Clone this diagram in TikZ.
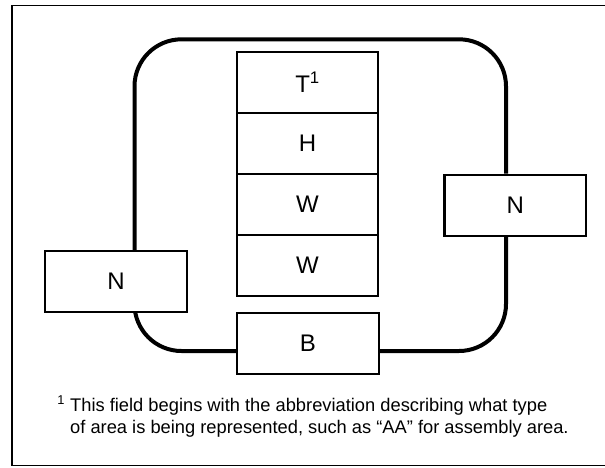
\documentclass[tikz,border=0pt]{standalone}
\usepackage{fontspec}
\setmainfont{Liberation Sans}
\usetikzlibrary{backgrounds}
\begin{document}
\begin{tikzpicture}[x=1pt,y=-1pt,
  field/.style={draw, line width=2.3pt, fill=white, rectangle, inner sep=0pt,
    minimum width=141.5pt, minimum height=61pt,
    font=\fontsize{24}{28}\selectfont},
  loopline/.style={line width=4pt, rounded corners=47pt},
  frameline/.style={line width=1.3pt}]
\useasboundingbox (0,0) rectangle (605,467);
% frame (right edge lies outside the picture)
\draw[frameline] (607,5.7) -- (12,5.7) -- (12,465.7) -- (607,465.7);
% stack of fields
\node[field] (T)  at (307.5,82.5)  {T\textsuperscript{1}};
\node[field] (H)  at (307.5,143.5) {H};
\node[field] (W1) at (307.5,204.5) {W};
\node[field] (W2) at (307.5,265.5) {W};
\node[field] (B)  at (308,343.3)   {B};
\node[field] (NL) at (116,281.7)   {N};
\node[field] (NR) at (515.3,205.2) {N};
% corners of the loop
\coordinate (tl) at (134.5,39.3);
\coordinate (tr) at (506,39.3);
\coordinate (br) at (506,351);
\coordinate (bl) at (134.5,351);
\begin{pgfonlayer}{background}
\draw[loopline] (NL.north -| tl) -- (tl) -- (tr) -- (NR.north -| tr);
\draw[loopline] (NR.south -| br) -- (br) -- (B.east |- br);
\draw[loopline] (B.west |- bl) -- (bl) -- (NL.center -| bl);
\end{pgfonlayer}
% footnote
\node[anchor=base west, inner sep=0pt, align=left,
  font=\fontsize{18.3}{22}\selectfont] (note) at (70,433)
  {\llap{\textsuperscript{1} }This field begins with the abbreviation describing what type\\
   of area is being represented, such as “AA” for assembly area.};
\end{tikzpicture}
\end{document}
